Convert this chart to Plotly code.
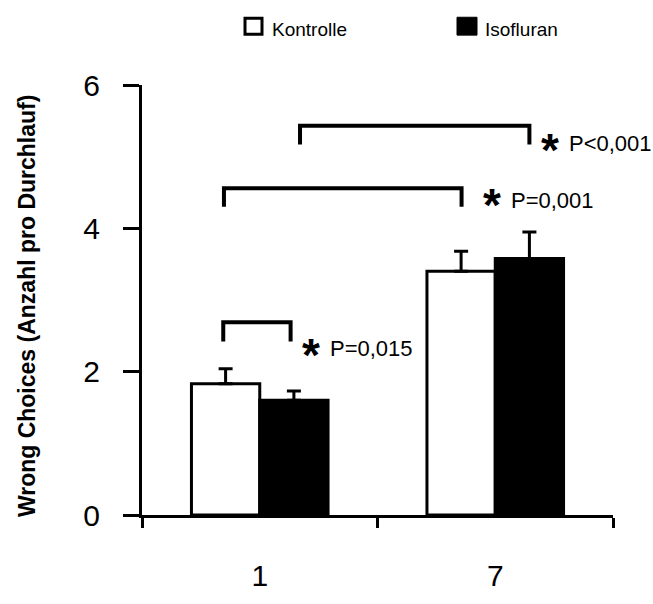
import plotly.graph_objects as go

# ---------------- data ----------------
categories = ["1", "7"]          # day labels
cat_pos = [0.5, 1.5]             # positions of the groups on the x axis
kontrolle = [1.83, 3.40]
kontrolle_err = [0.21, 0.28]
isofluran = [1.60, 3.58]
isofluran_err = [0.13, 0.37]
y_ticks = [0, 2, 4, 6]

# significance brackets: left x, right x, top y, leg bottom y
br_left = [0.345, 0.348, 0.671]
br_right = [0.631, 1.357, 1.645]
br_top = [2.69, 4.56, 5.43]
br_bottom = [2.42, 4.30, 5.17]
# annotation texts and positions
star_x = [0.718, 1.486, 1.732]
star_y = [2.35, 4.44, 5.21]
p_text = ["P=0,015", "P=0,001", "P<0,001"]
p_x = [0.790, 1.558, 1.805]
p_y = [2.32, 4.39, 5.19]

FONT = "Liberation Sans, Arial, sans-serif"
W, H = 653, 604
ML, MR, MT, MB = 142, 40, 85, 62
PW, PH = W - ML - MR, H - MT - MB


def px(xp):
    return (xp - ML) / PW


def py(yp):
    return (H - MB - yp) / PH


fig = go.Figure()
fig.add_trace(go.Bar(
    x=cat_pos, y=kontrolle, name="Kontrolle",
    marker=dict(color="white", line=dict(color="black", width=3)),
    error_y=dict(type="data", array=kontrolle_err, arrayminus=[0, 0], symmetric=False,
                 color="black", thickness=3, width=7),
    showlegend=False,
))
fig.add_trace(go.Bar(
    x=cat_pos, y=isofluran, name="Isofluran",
    marker=dict(color="black", line=dict(color="black", width=3)),
    error_y=dict(type="data", array=isofluran_err, arrayminus=[0, 0], symmetric=False,
                 color="black", thickness=3, width=7),
    showlegend=False,
))

shapes = []
for l, r, t, b in zip(br_left, br_right, br_top, br_bottom):
    shapes.append(dict(type="path", xref="x", yref="y",
                       path=f"M {l},{b} L {l},{t} L {r},{t} L {r},{b}",
                       line=dict(color="black", width=4)))

# custom legend
shapes.append(dict(type="rect", xref="paper", yref="paper",
                   x0=px(245), x1=px(262), y0=py(31), y1=py(14),
                   line=dict(color="black", width=3), fillcolor="white"))
shapes.append(dict(type="rect", xref="paper", yref="paper",
                   x0=px(457), x1=px(477), y0=py(32), y1=py(13),
                   line=dict(color="black", width=1), fillcolor="black"))

annotations = []
for x, y in zip(star_x, star_y):
    annotations.append(dict(x=x, y=y, xref="x", yref="y", text="<b>*</b>",
                            showarrow=False, xanchor="center", yanchor="middle",
                            yshift=-8, font=dict(family=FONT, size=46, color="black")))
for t, x, y in zip(p_text, p_x, p_y):
    annotations.append(dict(x=x, y=y, xref="x", yref="y", text=t,
                            showarrow=False, xanchor="left", yanchor="middle",
                            font=dict(family=FONT, size=22, color="black")))
annotations.append(dict(x=px(270), y=py(26), xref="paper", yref="paper", text="Kontrolle",
                        showarrow=False, xanchor="left", yanchor="middle",
                        font=dict(family=FONT, size=19, color="black")))
annotations.append(dict(x=px(483), y=py(26), xref="paper", yref="paper", text="Isofluran",
                        showarrow=False, xanchor="left", yanchor="middle",
                        font=dict(family=FONT, size=19, color="black")))
annotations.append(dict(x=px(27), y=py(320), xref="paper", yref="paper",
                        text="<b>Wrong Choices (Anzahl pro Durchlauf)</b>",
                        textangle=-90, showarrow=False, xanchor="center", yanchor="middle",
                        font=dict(family=FONT, size=23, color="black")))

fig.update_layout(
    width=W, height=H,
    margin=dict(l=ML, r=MR, t=MT, b=MB, pad=0),
    paper_bgcolor="white", plot_bgcolor="white",
    barmode="group", bargap=0.42, bargroupgap=0,
    shapes=shapes, annotations=annotations,
    showlegend=False,
    font=dict(family=FONT, color="black"),
    xaxis=dict(range=[0, 2], tickvals=cat_pos, ticktext=categories, ticks="",
               showline=True, linewidth=3, linecolor="black", showgrid=False, zeroline=False,
               tickfont=dict(family=FONT, size=30, color="black"), ticklabelstandoff=32,
               minor=dict(tickvals=[0, 1, 2], ticks="outside", ticklen=10, tickwidth=3,
                          tickcolor="black", showgrid=False)),
    yaxis=dict(range=[0, 6], tickvals=y_ticks, ticks="outside", ticklen=16, tickwidth=3,
               tickcolor="black", showline=True, linewidth=3, linecolor="black",
               showgrid=False, zeroline=False,
               tickfont=dict(family=FONT, size=30, color="black"), ticklabelstandoff=17),
)

fig.write_html("out.html", config={"displayModeBar": False},
               post_script="document.body.style.margin='0';document.body.style.overflow='hidden';")
